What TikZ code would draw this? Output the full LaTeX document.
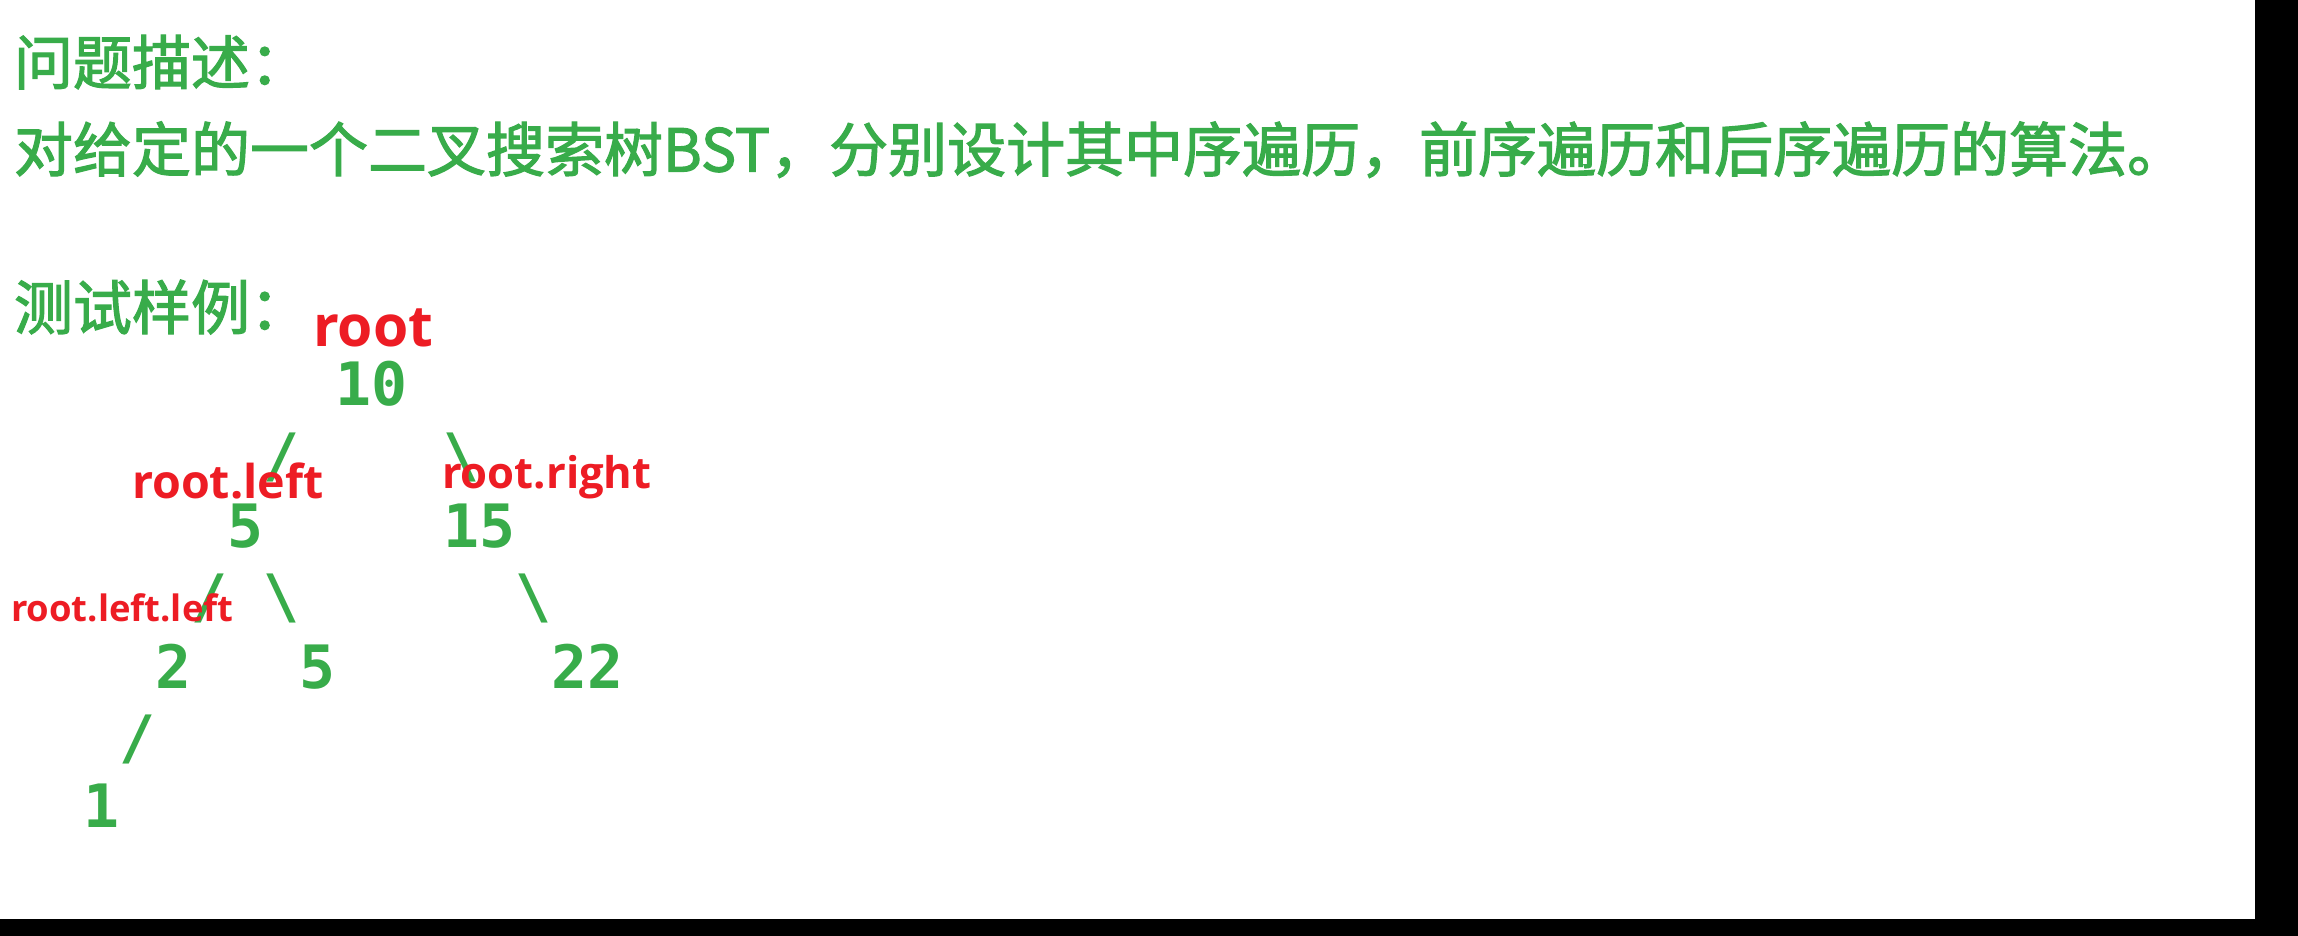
\documentclass[tikz,border=0pt]{standalone}
\usepackage{fontspec}
\setmainfont{Open Sans}
\newfontfamily\cjkfont[FakeBold=2]{Noto Sans CJK SC}
\newfontfamily\treefont{DejaVu Sans Mono}
\newfontfamily\tagfont{Open Sans}
\definecolor{txtgreen}{RGB}{56,172,74}
\definecolor{tagred}{RGB}{237,28,36}
\tikzset{
  cjktext/.style={anchor=base west, inner sep=0pt, outer sep=0pt, text=txtgreen,
    font=\cjkfont\fontsize{29.5pt}{30pt}\selectfont},
  treetok/.style={anchor=base west, inner sep=0pt, outer sep=0pt, text=txtgreen,
    font=\treefont\bfseries\fontsize{29.9pt}{30pt}\selectfont},
  redtag/.style={anchor=base west, inner sep=0pt, outer sep=0pt, text=tagred,
    font=\tagfont\bfseries}
}
\begin{document}
\begin{tikzpicture}[x=0.5pt,y=-0.5pt]
\path[use as bounding box] (0,0) rectangle (2298,936);
\fill[white] (0,0) rectangle (2255,919);
\fill[black] (2255,0) rectangle (2298,936);
\fill[black] (0,919) rectangle (2298,936);
% headings
\node[cjktext] (title) at (14,84.5) {问题描述：};
\node[cjktext] (desc) at (14,171.5) {对给定的一个二叉搜索树BST，分别设计其中序遍历，前序遍历和后序遍历的算法。};
\node[cjktext] (testlbl) at (14,329.5) {测试样例：};
% ascii tree
\node[treetok] (n10) at (335.5,405) {10};
\node[treetok] (sl1) at (263.5,476) {/};
\node[treetok] (sr1) at (443.5,476) {\textbackslash};
\node[treetok] (n5) at (227.5,547) {5};
\node[treetok] (n15) at (443.5,547) {15};
\node[treetok] (sl2) at (191.5,617) {/};
\node[treetok] (sr2) at (263.5,617) {\textbackslash};
\node[treetok] (sr3) at (515.5,617) {\textbackslash};
\node[treetok] (n2) at (155.5,688) {2};
\node[treetok] (n5b) at (299.5,688) {5};
\node[treetok] (n22) at (551.5,688) {22};
\node[treetok] (sl3) at (119.5,758) {/};
\node[treetok] (n1) at (83.5,827) {1};
% red labels
\node[redtag, font=\tagfont\bfseries\fontsize{28.5pt}{29pt}\selectfont] (lroot) at (313,347) {root};
\node[redtag, font=\tagfont\bfseries\fontsize{23.3pt}{24pt}\selectfont] (lleft) at (132,498) {root.left};
\node[redtag, font=\tagfont\bfseries\fontsize{21.8pt}{23pt}\selectfont] (lright) at (442,488) {root.right};
\node[redtag, font=\tagfont\bfseries\fontsize{18.2pt}{19pt}\selectfont] (lleftleft) at (11,621) {root.left.left};
\end{tikzpicture}
\end{document}
